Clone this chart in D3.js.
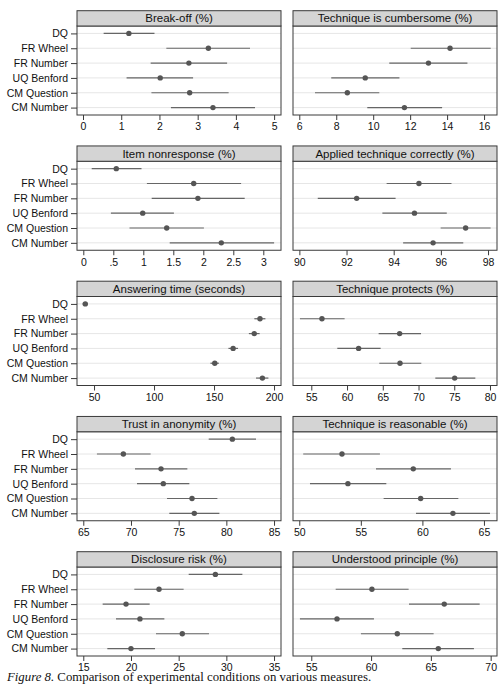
<!DOCTYPE html>
<meta charset="utf-8">
<style>
body { margin: 0; background: #fff; }
svg { display: block; font-family: "Liberation Sans", Arial, sans-serif; }
.frame { fill: none; stroke: #3a3a3a; stroke-width: 1; }
.head { fill: #d4d4d4; stroke: #3a3a3a; stroke-width: 1; }
.grid line { stroke: #e6e6e6; stroke-width: 1; }
.ci { stroke: #666; stroke-width: 1.2; }
.pt { fill: #555; }
.axis path { display: none; }
.axis line { stroke: #3a3a3a; }
.axis text { fill: #111; font-size: 10.5px; font-family: "Liberation Sans", Arial, sans-serif; }
</style>
<svg width="504" height="684"></svg>
<script src="https://cdn.jsdelivr.net/npm/d3@7"></script>
<script>

var conditions = ["DQ", "FR Wheel", "FR Number", "UQ Benford", "CM Question", "CM Number"];

var titles = ["Break-off (%)", "Technique is cumbersome (%)",
              "Item nonresponse (%)", "Applied technique correctly (%)",
              "Answering time (seconds)", "Technique protects (%)",
              "Trust in anonymity (%)", "Technique is reasonable (%)",
              "Disclosure risk (%)", "Understood principle (%)"];

var ticks = [[0, 1, 2, 3, 4, 5], [6, 8, 10, 12, 14, 16],
             [0, .5, 1, 1.5, 2, 2.5, 3], [90, 92, 94, 96, 98],
             [50, 100, 150, 200], [55, 60, 65, 70, 75, 80],
             [65, 70, 75, 80, 85], [50, 55, 60, 65],
             [15, 20, 25, 30, 35], [55, 60, 65, 70]];

// axis extents (Stata pads a little past the outer ticks)
var extents = [[-0.157, 5.18], [5.66, 16.70],
               [-0.105, 3.295], [89.73, 98.38],
               [35.8, 205.8], [52.44, 80.98],
               [64.34, 85.73], [49.49, 66.06],
               [14.34, 35.73], [53.47, 70.53]];

// [estimate, lower, upper] per condition, null = not asked
var breakOff     = [[1.20, 0.54, 1.87], [3.28, 2.18, 4.37], [2.77, 1.77, 3.77], [2.02, 1.14, 2.88], [2.79, 1.79, 3.81], [3.40, 2.30, 4.50]];
var cumbersome   = [null, [14.16, 12.03, 16.36], [12.99, 10.87, 15.10], [9.57, 7.73, 11.42], [8.60, 6.85, 10.33], [11.69, 9.68, 13.73]];
var nonresponse  = [[0.55, 0.14, 0.97], [1.84, 1.06, 2.63], [1.91, 1.14, 2.69], [0.99, 0.46, 1.51], [1.39, 0.77, 2.01], [2.30, 1.44, 3.18]];
var appliedOk    = [null, [95.07, 93.70, 96.45], [92.43, 90.78, 94.08], [94.88, 93.52, 96.25], [97.05, 95.99, 98.11], [95.67, 94.40, 96.95]];
var answerTime   = [[42.7, 40.5, 45.0], [188.3, 183.5, 192.8], [183.5, 179.0, 188.0], [165.9, 162.0, 170.0], [150.6, 147.0, 154.0], [190.3, 185.0, 195.3]];
var protects     = [null, [56.49, 53.41, 59.66], [67.36, 64.42, 70.35], [61.62, 58.64, 64.70], [67.41, 64.51, 70.39], [75.06, 72.35, 77.95]];
var trust        = [[80.63, 78.15, 83.11], [69.20, 66.43, 72.06], [73.15, 70.42, 75.91], [73.39, 70.63, 76.12], [76.40, 73.78, 79.06], [76.64, 74.02, 79.27]];
var reasonable   = [null, [53.47, 50.32, 56.55], [59.26, 56.23, 62.32], [53.95, 50.87, 57.07], [59.86, 56.85, 62.92], [62.48, 59.48, 65.49]];
var disclosure   = [[28.85, 26.05, 31.68], [22.94, 20.35, 25.52], [19.48, 17.03, 21.96], [20.94, 18.43, 23.50], [25.38, 22.62, 28.18], [20.00, 17.52, 22.52]];
var understood   = [null, [60.07, 57.04, 63.14], [66.12, 63.17, 69.08], [57.15, 54.05, 60.24], [62.19, 59.15, 65.23], [65.62, 62.61, 68.60]];

var measures = [breakOff, cumbersome, nonresponse, appliedOk, answerTime,
                protects, trust, reasonable, disclosure, understood];

var svg = d3.select("svg");

var colX = [[77, 281], [293, 497]],
    pitch = 135.25,
    headTop = 10.7,
    headH = 15.3,
    plotBottom = 115;

measures.forEach(function(m, i) {
  var col = i % 2, row = Math.floor(i / 2);
  var oy = row * pitch;
  var x0 = colX[col][0], x1 = colX[col][1];
  var top = oy + headTop + headH, bottom = oy + plotBottom;

  var x = d3.scaleLinear().domain(extents[i]).range([x0, x1]);
  var y = d3.scalePoint().domain(conditions).range([top, bottom]).padding(0.5);

  var g = svg.append("g");

  g.append("g").attr("class", "grid")
    .selectAll("line").data(conditions).enter().append("line")
      .attr("x1", x0).attr("x2", x1)
      .attr("y1", function(d) { return y(d); })
      .attr("y2", function(d) { return y(d); });

  var rows = conditions.map(function(c, j) { return {c: c, v: m[j]}; })
    .filter(function(d) { return d.v; });

  g.selectAll(".ci").data(rows).enter().append("line")
    .attr("class", "ci")
    .attr("x1", function(d) { return x(d.v[1]); })
    .attr("x2", function(d) { return x(d.v[2]); })
    .attr("y1", function(d) { return y(d.c); })
    .attr("y2", function(d) { return y(d.c); });

  g.selectAll(".pt").data(rows).enter().append("circle")
    .attr("class", "pt")
    .attr("cx", function(d) { return x(d.v[0]); })
    .attr("cy", function(d) { return y(d.c); })
    .attr("r", 2.7);

  g.append("rect").attr("class", "frame")
    .attr("x", x0).attr("y", top).attr("width", x1 - x0).attr("height", bottom - top);

  g.append("rect").attr("class", "head")
    .attr("x", x0).attr("y", oy + headTop).attr("width", x1 - x0).attr("height", headH);

  g.append("text")
    .attr("x", (x0 + x1) / 2).attr("y", oy + headTop + headH / 2 + 4)
    .attr("text-anchor", "middle")
    .style("font-size", "11.5px").style("fill", "#111")
    .text(titles[i]);

  g.append("g").attr("class", "axis")
    .attr("transform", "translate(0," + bottom + ")")
    .call(d3.axisBottom(x).tickValues(ticks[i]).tickSize(5).tickPadding(3)
      .tickFormat(function(d) { return String(d).replace(/^0\./, "."); }));

  if (col === 0) {
    g.append("g").attr("class", "axis")
      .attr("transform", "translate(" + x0 + ",0)")
      .call(d3.axisLeft(y).tickSize(6).tickPadding(3));
  }
});

var cap = svg.append("text")
  .attr("x", 7).attr("y", 680.5)
  .style("font-family", "'Liberation Serif', 'Times New Roman', serif")
  .style("font-size", "12.8px").style("fill", "#111");
cap.append("tspan").style("font-style", "italic").text("Figure 8.");
cap.append("tspan").text(" Comparison of experimental conditions on various measures.");

</script>
